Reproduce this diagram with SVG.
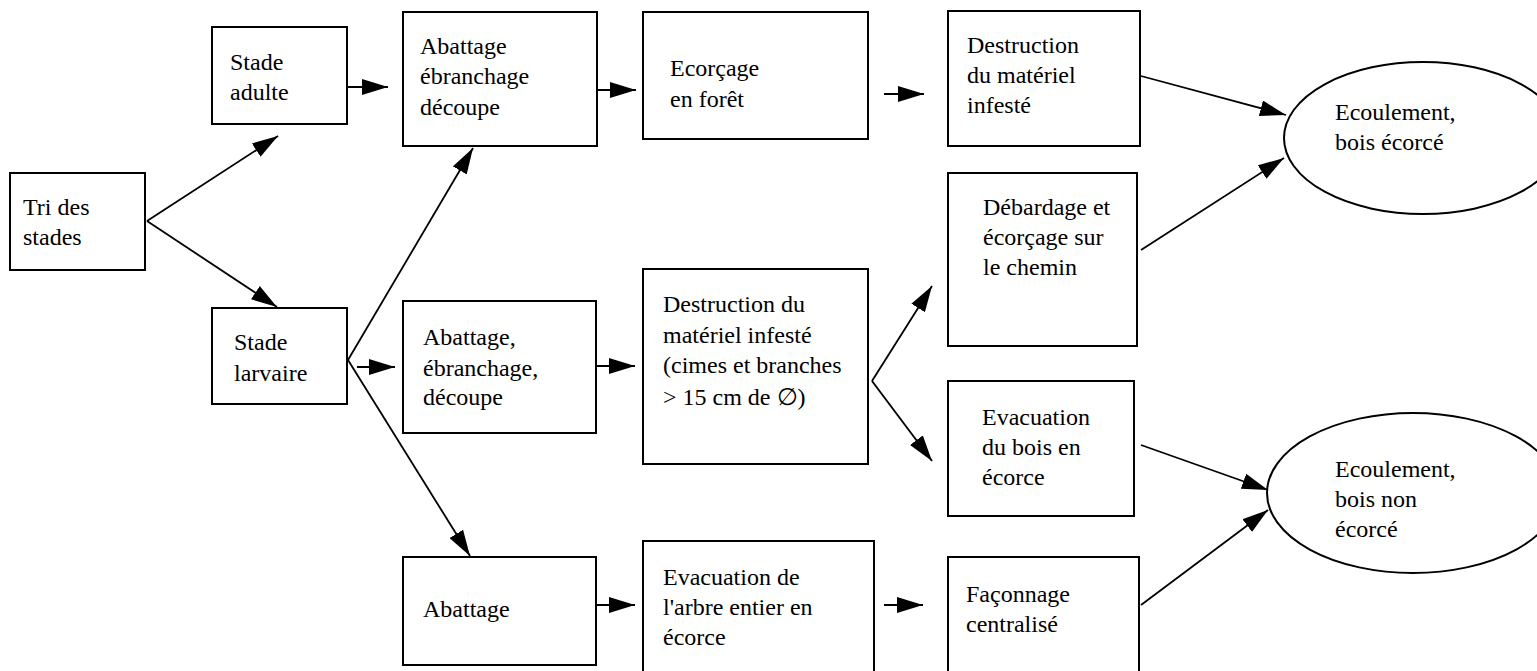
<svg xmlns="http://www.w3.org/2000/svg" width="1537" height="671" viewBox="0 0 1537 671" font-family="Liberation Serif, Tinos, Times New Roman, serif" font-size="24">
<style>
.box{fill:#fff;stroke:#000;stroke-width:2}
.ell{fill:#fff;stroke:#000;stroke-width:2}
.c line{stroke:#000;stroke-width:1.8;marker-end:url(#ah)}
</style>
<defs>
<marker id="ah" markerUnits="userSpaceOnUse" markerWidth="26" markerHeight="16" refX="26" refY="8" orient="auto">
<path d="M0,0 L26,8 L0,16 z" fill="#000"/>
</marker>
</defs>
<rect width="1537" height="671" fill="#fff"/>
<g id="n-tri"><rect class="box" x="10" y="173" width="135" height="97"/><text x="23" y="215">Tri des</text><text x="23" y="245">stades</text></g>
<g id="n-adulte"><rect class="box" x="212" y="27" width="135" height="97"/><text x="230" y="70">Stade</text><text x="230" y="100">adulte</text></g>
<g id="n-larvaire"><rect class="box" x="212" y="308" width="135" height="96"/><text x="234" y="350">Stade</text><text x="234" y="381">larvaire</text></g>
<g id="n-abat1"><rect class="box" x="403" y="12" width="194" height="134"/><text x="420" y="54">Abattage</text><text x="420" y="84">ébranchage</text><text x="420" y="115">découpe</text></g>
<g id="n-ecorcage"><rect class="box" x="643" y="12" width="225" height="127"/><text x="670" y="76">Ecorçage</text><text x="670" y="107">en forêt</text></g>
<g id="n-destr1"><rect class="box" x="948" y="11" width="192" height="135"/><text x="967" y="53">Destruction</text><text x="967" y="83">du matériel</text><text x="967" y="113">infesté</text></g>
<g id="n-ecoul1"><ellipse class="ell" cx="1423" cy="138" rx="139" ry="76"/><text x="1335" y="120">Ecoulement,</text><text x="1335" y="150">bois écorcé</text></g>
<g id="n-abat2"><rect class="box" x="403" y="301" width="193" height="132"/><text x="423" y="345">Abattage,</text><text x="423" y="376">ébranchage,</text><text x="423" y="405">découpe</text></g>
<g id="n-destr2"><rect class="box" x="643" y="269" width="225" height="195"/><text x="663" y="312">Destruction du</text><text x="663" y="343">matériel infesté</text><text x="663" y="373">(cimes et branches</text><text x="663" y="405">&gt; 15 cm de ∅)</text></g>
<g id="n-debardage"><rect class="box" x="948" y="173" width="189" height="173"/><text x="983" y="215">Débardage et</text><text x="983" y="245">écorçage sur</text><text x="983" y="275">le chemin</text></g>
<g id="n-evac1"><rect class="box" x="948" y="381" width="186" height="135"/><text x="982" y="425">Evacuation</text><text x="982" y="455">du bois en</text><text x="982" y="485">écorce</text></g>
<g id="n-ecoul2"><ellipse class="ell" cx="1413" cy="493" rx="146" ry="80"/><text x="1335" y="477">Ecoulement,</text><text x="1335" y="507">bois non</text><text x="1335" y="537">écorcé</text></g>
<g id="n-abat3"><rect class="box" x="403" y="557" width="193" height="108"/><text x="423" y="617">Abattage</text></g>
<g id="n-evac2"><rect class="box" x="643" y="541" width="231" height="140"/><text x="663" y="585">Evacuation de</text><text x="663" y="615">l'arbre entier en</text><text x="663" y="645">écorce</text></g>
<g id="n-faconnage"><rect class="box" x="948" y="557" width="191" height="124"/><text x="966" y="602">Façonnage</text><text x="966" y="632">centralisé</text></g>
<g id="connectors" class="c">
<line x1="147" y1="221" x2="278" y2="136"/>
<line x1="147" y1="221" x2="277" y2="307"/>
<line x1="348" y1="87" x2="388" y2="87"/>
<line x1="348" y1="360" x2="473" y2="148"/>
<line x1="357" y1="367" x2="395" y2="367"/>
<line x1="348" y1="360" x2="470" y2="556"/>
<line x1="598" y1="90" x2="636" y2="90"/>
<line x1="884" y1="94" x2="924" y2="94"/>
<line x1="1141" y1="76" x2="1286" y2="115"/>
<line x1="1141" y1="250" x2="1284" y2="158"/>
<line x1="597" y1="366" x2="635" y2="366"/>
<line x1="872" y1="381" x2="932" y2="286"/>
<line x1="872" y1="381" x2="932" y2="461"/>
<line x1="1141" y1="445" x2="1268" y2="490"/>
<line x1="1141" y1="605" x2="1268" y2="510"/>
<line x1="597" y1="605" x2="635" y2="605"/>
<line x1="884" y1="605" x2="923" y2="605"/>
</g>
</svg>
